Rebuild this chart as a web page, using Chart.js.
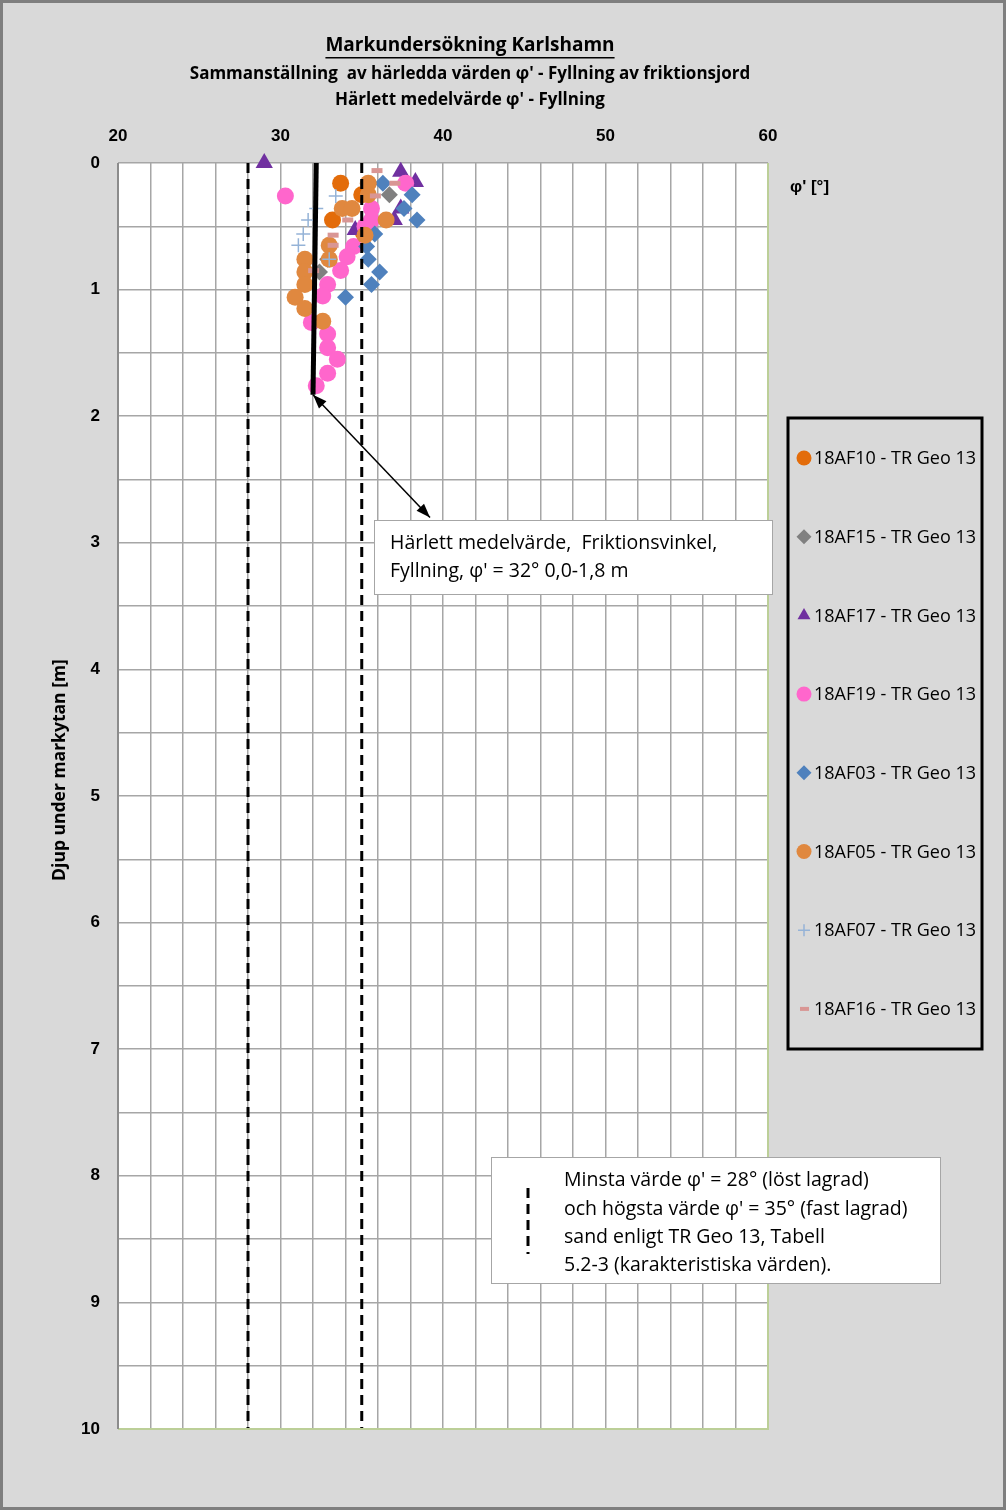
<!DOCTYPE html>
<html>
<head>
<meta charset="utf-8">
<script src="https://cdn.jsdelivr.net/npm/chart.js@4.4.1/dist/chart.umd.min.js"></script>
<style>
  html, body { margin: 0; padding: 0; background: #d9d9d9; }
  #wrap { position: relative; width: 1006px; height: 1510px; }
  canvas { display: block; }
</style>
</head>
<body>
<div id="wrap"><canvas id="chart" width="1006" height="1510"></canvas></div>
<script>
// Axes
const phiTicks = [20, 30, 40, 50, 60];
const depthTicks = [0, 1, 2, 3, 4, 5, 6, 7, 8, 9, 10];

// Series (phi [°], depth [m])
const af10Phi = [33.7, 35.0, 33.2, 35.1];
const af10Depth = [0.16, 0.25, 0.45, 0.55];

const af15Phi = [36.7, 33.0, 32.9, 32.4];
const af15Depth = [0.25, 0.66, 0.76, 0.86];

const af17Phi = [29.0, 37.4, 38.3, 37.4, 37.0, 34.6];
const af17Depth = [0.0, 0.07, 0.15, 0.36, 0.45, 0.53];

const af19Phi = [30.3, 37.7, 35.6, 35.6, 35.2, 34.5, 34.1, 33.7, 32.9, 32.6, 31.9, 32.9, 32.9, 33.5, 32.9, 32.2];
const af19Depth = [0.26, 0.16, 0.36, 0.45, 0.5, 0.66, 0.74, 0.85, 0.96, 1.05, 1.26, 1.35, 1.46, 1.55, 1.66, 1.76];

const af03Phi = [36.3, 38.1, 37.6, 38.4, 35.8, 35.3, 35.4, 36.1, 35.6, 34.0];
const af03Depth = [0.16, 0.25, 0.36, 0.45, 0.56, 0.66, 0.76, 0.86, 0.96, 1.06];

const af05Phi = [35.4, 35.4, 33.8, 34.4, 36.5, 35.2, 33.0, 33.0, 31.5, 31.5, 31.5, 30.9, 31.5, 32.6];
const af05Depth = [0.16, 0.25, 0.36, 0.36, 0.45, 0.57, 0.65, 0.76, 0.76, 0.86, 0.96, 1.06, 1.15, 1.25];

const af07Phi = [33.4, 32.2, 31.7, 31.4, 31.1, 33.0];
const af07Depth = [0.26, 0.36, 0.45, 0.56, 0.65, 0.76];

const af16Phi = [35.6, 36.7, 35.5, 33.8, 32.9, 32.9, 31.7];
const af16Depth = [0.06, 0.16, 0.26, 0.45, 0.57, 0.65, 0.85];

// Derived mean value line and TR Geo 13 limits
const meanPhi = [32.2, 32.0];
const meanDepth = [0, 1.83];
const minPhi = 28;
const maxPhi = 35;
const limitDepth = [0, 10];

// Annotation arrow (data units)
const arrowFrom = [32.0, 1.83];
const arrowTo = [39.2, 2.8];

function pts(xs, ys) {
  return xs.map((x, i) => ({ x: x, y: ys[i] }));
}

const seriesDefs = [
  { label: '18AF10 - TR Geo 13', phi: af10Phi, depth: af10Depth, style: 'circle', color: '#e36c0a', radius: 8.5 },
  { label: '18AF15 - TR Geo 13', phi: af15Phi, depth: af15Depth, style: 'rectRot', color: '#808080', radius: 8.5 },
  { label: '18AF17 - TR Geo 13', phi: af17Phi, depth: af17Depth, style: 'triangle', color: '#7030a0', radius: 10 },
  { label: '18AF19 - TR Geo 13', phi: af19Phi, depth: af19Depth, style: 'circle', color: '#ff66cc', radius: 8.5 },
  { label: '18AF03 - TR Geo 13', phi: af03Phi, depth: af03Depth, style: 'rectRot', color: '#4f81bd', radius: 8.5 },
  { label: '18AF05 - TR Geo 13', phi: af05Phi, depth: af05Depth, style: 'circle', color: '#e0883f', radius: 8.5 },
  { label: '18AF07 - TR Geo 13', phi: af07Phi, depth: af07Depth, style: 'cross', color: '#95b3d7', radius: 7 },
  { label: '18AF16 - TR Geo 13', phi: af16Phi, depth: af16Depth, style: 'dash', color: '#d99694', radius: 11 }
];

const datasets = seriesDefs.map((s, i) => ({
  label: s.label,
  data: pts(s.phi, s.depth),
  pointStyle: s.style,
  pointRadius: s.radius,
  pointHoverRadius: s.radius,
  backgroundColor: s.color,
  borderColor: s.color,
  pointBorderWidth: s.style === 'cross' ? 1.5 : (s.style === 'dash' ? 5 : 0),
  showLine: false,
  clip: false,
  order: 20 - i
}));

datasets.push({
  label: 'medel',
  data: pts(meanPhi, meanDepth),
  showLine: true, borderColor: '#000', borderWidth: 5, pointRadius: 0, order: 1
});
datasets.push({
  label: 'min',
  data: pts([minPhi, minPhi], limitDepth),
  showLine: true, borderColor: '#000', borderWidth: 3, borderDash: [10, 6], pointRadius: 0, order: 2
});
datasets.push({
  label: 'max',
  data: pts([maxPhi, maxPhi], limitDepth),
  showLine: true, borderColor: '#000', borderWidth: 3, borderDash: [10, 6], pointRadius: 0, order: 2
});

// ritar bakgrund, titlar, ram, legend och textrutor
const decorPlugin = {
  id: 'decor',
  beforeDraw(chart) {
    const ctx = chart.ctx;
    const a = chart.chartArea;
    ctx.save();
    ctx.fillStyle = '#d9d9d9';
    ctx.fillRect(0, 0, chart.width, chart.height);
    ctx.strokeStyle = '#7f7f7f';
    ctx.lineWidth = 3;
    ctx.strokeRect(1.5, 1.5, chart.width - 3, chart.height - 3);
    ctx.fillStyle = '#ffffff';
    ctx.fillRect(a.left, a.top, a.right - a.left, a.bottom - a.top);
    ctx.restore();
  },
  afterDraw(chart) {
    const ctx = chart.ctx;
    const a = chart.chartArea;
    const xs = chart.scales.x;
    const ys = chart.scales.y;
    ctx.save();

    // plot frame
    ctx.lineWidth = 2;
    ctx.strokeStyle = '#bccf98';
    ctx.beginPath();
    ctx.moveTo(a.right, a.top); ctx.lineTo(a.right, a.bottom); ctx.lineTo(a.left, a.bottom);
    ctx.stroke();
    ctx.strokeStyle = '#8c8c8c';
    ctx.beginPath();
    ctx.moveTo(a.left, a.bottom); ctx.lineTo(a.left, a.top);
    ctx.stroke();

    // titles
    ctx.fillStyle = '#000';
    ctx.textAlign = 'center';
    ctx.textBaseline = 'middle';
    ctx.font = 'bold 19px "Open Sans", sans-serif';
    const t1 = 'Markundersökning Karlshamn';
    ctx.fillText(t1, 470, 46);
    const w1 = ctx.measureText(t1).width;
    ctx.fillRect(470 - w1 / 2, 57, w1, 1.5);
    ctx.font = 'bold 17px "Open Sans", sans-serif';
    ctx.fillText("Sammanställning  av härledda värden φ' - Fyllning av friktionsjord", 470, 74);
    ctx.fillText("Härlett medelvärde φ' - Fyllning", 470, 100);

    // y-axis title
    ctx.save();
    ctx.translate(60, 770);
    ctx.rotate(-Math.PI / 2);
    ctx.font = 'bold 17.5px "Open Sans", sans-serif';
    ctx.fillText('Djup under markytan [m]', 0, 0);
    ctx.restore();

    // x-axis unit
    ctx.textAlign = 'left';
    ctx.font = 'bold 17px "Liberation Sans", sans-serif';
    ctx.fillText("φ' [°]", 790, 187);

    // arrow between mean line and text box
    const x0 = xs.getPixelForValue(arrowFrom[0]), y0 = ys.getPixelForValue(arrowFrom[1]);
    const x1 = xs.getPixelForValue(arrowTo[0]), y1 = ys.getPixelForValue(arrowTo[1]);
    ctx.strokeStyle = '#000';
    ctx.lineWidth = 1.5;
    ctx.beginPath(); ctx.moveTo(x0, y0); ctx.lineTo(x1, y1); ctx.stroke();
    const head = (px, py, qx, qy) => {
      const ang = Math.atan2(py - qy, px - qx);
      ctx.beginPath();
      ctx.moveTo(px, py);
      ctx.lineTo(px - 15 * Math.cos(ang - 0.35), py - 15 * Math.sin(ang - 0.35));
      ctx.lineTo(px - 15 * Math.cos(ang + 0.35), py - 15 * Math.sin(ang + 0.35));
      ctx.closePath();
      ctx.fill();
    };
    head(x0, y0, x1, y1);
    head(x1, y1, x0, y0);

    // text box 1
    ctx.fillStyle = '#fff';
    ctx.strokeStyle = '#a6a6a6';
    ctx.lineWidth = 1;
    ctx.fillRect(374, 520, 398, 74);
    ctx.strokeRect(374.5, 520.5, 398, 74);
    ctx.fillStyle = '#000';
    ctx.font = '19.5px "Open Sans", sans-serif';
    ctx.textBaseline = 'middle';
    ctx.fillText('Härlett medelvärde,  Friktionsvinkel,', 390, 543);
    ctx.fillText("Fyllning, φ' = 32° 0,0-1,8 m", 390, 571);

    // text box 2
    ctx.fillStyle = '#fff';
    ctx.fillRect(491, 1157, 449, 126);
    ctx.strokeRect(491.5, 1157.5, 449, 126);
    ctx.fillStyle = '#000';
    ctx.fillText("Minsta värde φ' = 28° (löst lagrad)", 564, 1180);
    ctx.fillText("och högsta värde φ' = 35° (fast lagrad)", 564, 1209);
    ctx.fillText('sand enligt TR Geo 13, Tabell', 564, 1237);
    ctx.fillText('5.2-3 (karakteristiska värden).', 564, 1265);
    ctx.strokeStyle = '#000';
    ctx.lineWidth = 3;
    ctx.setLineDash([10, 6]);
    ctx.beginPath(); ctx.moveTo(528, 1188); ctx.lineTo(528, 1254); ctx.stroke();
    ctx.setLineDash([]);

    // legend
    ctx.strokeStyle = '#000';
    ctx.lineWidth = 3;
    ctx.strokeRect(788, 418, 194, 631);
    ctx.font = '18px "Open Sans", sans-serif';
    seriesDefs.forEach((s, i) => {
      const ly = 458 + i * 78.7;
      const ds = chart.data.datasets[i];
      let r = 7.5, lx = 804;
      if (s.style === 'dash') { r = 9; lx = 800; }
      if (s.style === 'cross') r = 6;
      const opts = {
        pointStyle: s.style,
        radius: r,
        borderWidth: s.style === 'dash' ? 4 : ds.pointBorderWidth
      };
      ctx.save();
      ctx.fillStyle = s.color;
      ctx.strokeStyle = s.color;
      ctx.lineWidth = opts.borderWidth;
      Chart.helpers.drawPoint(ctx, opts, lx, ly);
      ctx.restore();
      ctx.fillStyle = '#000';
      ctx.fillText(s.label, 814, ly + 1);
    });

    ctx.restore();
  }
};

const labelFont = { family: '"Liberation Sans", sans-serif', size: 17, weight: 'bold' };

new Chart(document.getElementById('chart').getContext('2d'), {
  type: 'scatter',
  data: { datasets: datasets },
  options: {
    responsive: false,
    animation: false,
    layout: { padding: { left: 70, top: 123, right: 238, bottom: 81 } },
    plugins: { legend: { display: false }, tooltip: { enabled: false }, title: { display: false } },
    scales: {
      x: {
        type: 'linear',
        position: 'top',
        min: 20, max: 60,
        border: { display: false },
        grid: { color: '#a6a6a6', lineWidth: 1.5, drawTicks: false },
        ticks: {
          stepSize: 2,
          padding: 16,
          color: '#000',
          font: labelFont,
          callback: v => phiTicks.includes(v) ? String(v) : ''
        },
        afterFit: s => { s.height = 40; }
      },
      y: {
        type: 'linear',
        reverse: true,
        min: 0, max: 10,
        border: { display: false },
        grid: { color: '#a6a6a6', lineWidth: 1.5, drawTicks: false },
        ticks: {
          stepSize: 0.5,
          padding: 18,
          color: '#000',
          font: labelFont,
          callback: v => depthTicks.includes(v) ? String(v) : ''
        },
        afterFit: s => { s.width = 48; }
      }
    }
  },
  plugins: [decorPlugin]
});
</script>
</body>
</html>
